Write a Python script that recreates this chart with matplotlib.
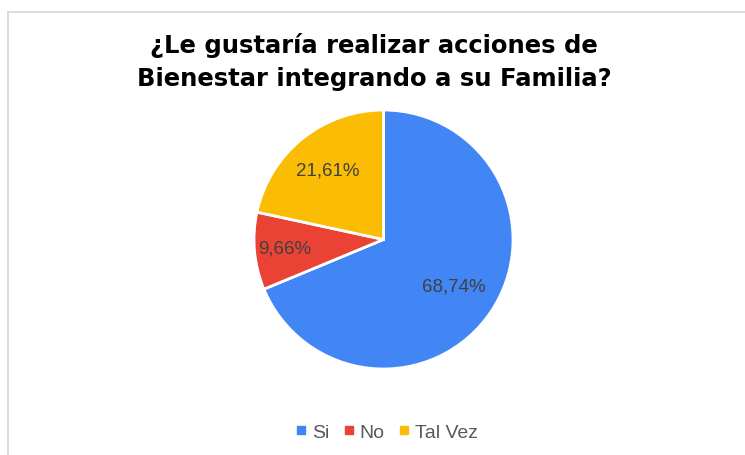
import matplotlib
matplotlib.use("Agg")
import matplotlib.pyplot as plt
from matplotlib.lines import Line2D
import numpy as np

# Survey answers
categories = ["Si", "No", "Tal Vez"]
shares = [68.74, 9.66, 21.61]
colors = ["#4285F4", "#EA4335", "#FBBC04"]
title = "¿Le gustaría realizar acciones de\nBienestar integrando a su Familia?"

# radial position of each percentage label (fraction of radius)
label_radius = [0.65, 0.77, 0.69]

W, H, DPI = 745, 456, 100
fig = plt.figure(figsize=(W / DPI, H / DPI), dpi=DPI)
fig.patch.set_facecolor("white")

# light frame along the top and left edges
border = "#D9D9D9"
fig.add_artist(Line2D([8 / W, 1.01], [1 - 12.5 / H, 1 - 12.5 / H], color=border, lw=1.3,
                      transform=fig.transFigure))
fig.add_artist(Line2D([8 / W, 8 / W], [-0.01, 1 - 12.5 / H], color=border, lw=1.3,
                      transform=fig.transFigure))

fig.text(374 / W, 1 - 62 / H, title, ha="center", va="center", fontsize=17.5,
         fontweight="bold", color="#000000", linespacing=1.45, family="DejaVu Sans")

cx, cy, r = 383.5, 240.5, 129.5
ax = fig.add_axes([(cx - r) / W, (H - cy - r) / H, 2 * r / W, 2 * r / H])
ax.pie(shares, colors=colors, startangle=90, counterclock=False,
       radius=1, wedgeprops=dict(edgecolor="white", linewidth=2))
ax.set_xlim(-1, 1)
ax.set_ylim(-1, 1)
ax.set_aspect("equal")
ax.axis("off")

total = sum(shares)
start = 90.0
for val, rr in zip(shares, label_radius):
    sweep = 360.0 * val / total
    mid = np.deg2rad(start - sweep / 2)
    ax.text(rr * np.cos(mid), rr * np.sin(mid), f"{val:.2f}%".replace(".", ","),
            ha="center", va="center", fontsize=13.5, color="#404040",
            family="Liberation Sans")
    start -= sweep

handles = [Line2D([], [], marker="s", linestyle="none", markersize=5.5,
                  markerfacecolor=c, markeredgecolor=c) for c in colors]
fig.legend(handles, categories, loc="center", bbox_to_anchor=(387 / W, 1 - 433 / H),
           ncol=3, frameon=False, handlelength=0.5, handletextpad=0.3, columnspacing=0.75,
           prop=dict(family="Liberation Sans", size=14), labelcolor="#595959")

fig.savefig("out.png", dpi=DPI, facecolor="white")
